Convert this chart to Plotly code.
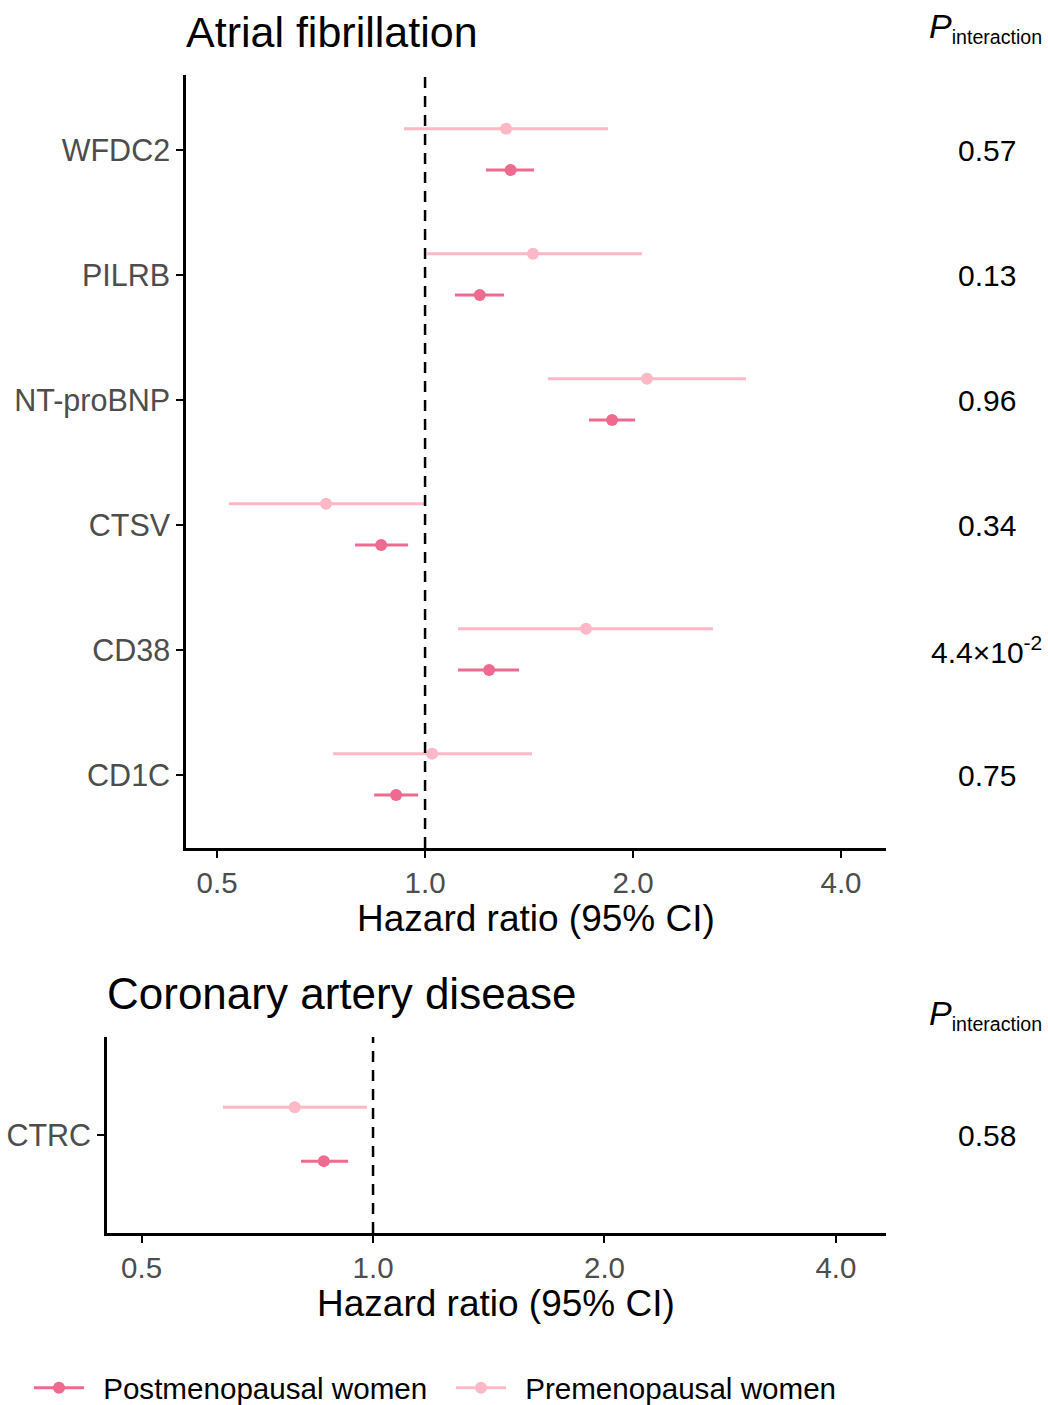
import plotly.graph_objects as go
import math

# ---------------- data ----------------
af_proteins = ["WFDC2", "PILRB", "NT-proBNP", "CTSV", "CD38", "CD1C"]
af_post_hr = [1.33, 1.20, 1.865, 0.864, 1.238, 0.908]
af_post_lo = [1.225, 1.105, 1.727, 0.792, 1.116, 0.844]
af_post_hi = [1.438, 1.301, 2.014, 0.945, 1.368, 0.977]
af_pre_hr = [1.31, 1.433, 2.095, 0.719, 1.71, 1.024]
af_pre_lo = [0.932, 1.007, 1.506, 0.520, 1.116, 0.736]
af_pre_hi = [1.84, 2.06, 2.914, 0.997, 2.61, 1.428]
af_p = ["0.57", "0.13", "0.96", "0.34", "4.4×10<sup>-2</sup>", "0.75"]

cad_proteins = ["CTRC"]
cad_post_hr = [0.863]
cad_post_lo = [0.806]
cad_post_hi = [0.928]
cad_pre_hr = [0.791]
cad_pre_lo = [0.638]
cad_pre_hi = [0.982]
cad_p = ["0.58"]

x_ticks = [0.5, 1.0, 2.0, 4.0]
x_ticktext = ["0.5", "1.0", "2.0", "4.0"]

POST = "#EE6A8E"
PRE = "#FFB8C6"
W, H = 1048, 1405
FONT = "Liberation Sans, Arial, sans-serif"
GRAY = "#4D4D4D"

def px(x):
    return x / W

def py(y):
    return 1 - y / H

fig = go.Figure()

def add_panel(names, post_hr, post_lo, post_hi, pre_hr, pre_lo, pre_hi, xa, ya, legend):
    n = len(names)
    pos = [n - i for i in range(n)]
    groups = [
        ("\u00a0\u2009Postmenopausal women", POST, post_hr, post_lo, post_hi, -0.16),
        ("\u00a0\u2009Premenopausal women", PRE, pre_hr, pre_lo, pre_hi, 0.17),
    ]
    for name, col, hr, lo, hi, off in groups:
        cx, cy = [], []
        for p, l, h in zip(pos, lo, hi):
            cx += [l, h, None]
            cy += [p + off, p + off, None]
        fig.add_trace(go.Scatter(x=cx, y=cy, mode="lines", line=dict(color=col, width=3),
                                 xaxis=xa, yaxis=ya, showlegend=False, hoverinfo="skip"))
        mx, my = [], []
        for p, v in zip(pos, hr):
            mx += [v, None]
            my += [p + off, None]
        fig.add_trace(go.Scatter(x=mx, y=my, mode="lines+markers", name=name,
                                 line=dict(color=col, width=3),
                                 marker=dict(color=col, size=12),
                                 xaxis=xa, yaxis=ya, showlegend=legend, connectgaps=False))
    return pos

pos_af = add_panel(af_proteins, af_post_hr, af_post_lo, af_post_hi,
                   af_pre_hr, af_pre_lo, af_pre_hi, "x", "y", True)
pos_cad = add_panel(cad_proteins, cad_post_hr, cad_post_lo, cad_post_hi,
                    cad_pre_hr, cad_pre_lo, cad_pre_hi, "x2", "y2", False)

xrange = [math.log10(0.4508), math.log10(4.647)]
common = dict(showgrid=False, zeroline=False, showline=True, linecolor="black",
              linewidth=2.5, ticks="outside", ticklen=7, tickwidth=2, tickcolor="black")
xfont = dict(family=FONT, size=29.5, color=GRAY)
yfont = dict(family=FONT, size=30.5, color=GRAY)

fig.update_layout(
    width=W, height=H,
    margin=dict(l=0, r=0, t=0, b=0, pad=0, autoexpand=False),
    paper_bgcolor="white", plot_bgcolor="white",
    font=dict(family=FONT),
    xaxis=dict(type="log", range=xrange, domain=[px(186), px(886)], anchor="y",
               tickvals=x_ticks, ticktext=x_ticktext, tickfont=xfont, **common),
    yaxis=dict(range=[0.416, 6.6], domain=[py(848), py(75)], anchor="x",
               tickvals=pos_af, ticktext=af_proteins, tickfont=yfont,
               ticklabelstandoff=0, **common),
    xaxis2=dict(type="log", range=xrange, domain=[px(107), px(886)], anchor="y2",
                tickvals=x_ticks, ticktext=x_ticktext, tickfont=xfont, **common),
    yaxis2=dict(range=[0.4, 1.6], domain=[py(1233), py(1037)], anchor="x2",
                tickvals=pos_cad, ticktext=cad_proteins, tickfont=yfont,
                ticklabelstandoff=0, **common),
    legend=dict(orientation="h", x=px(29), xanchor="left", y=py(1388), yanchor="middle",
                font=dict(family=FONT, size=29.6, color="black"),
                itemwidth=50, entrywidth=357, entrywidthmode="pixels", traceorder="normal",
                bgcolor="rgba(0,0,0,0)"),
    showlegend=True,
)

# dashed reference lines at HR = 1
for xr, yr in [("x", "y domain"), ("x2", "y2 domain")]:
    fig.add_shape(type="line", xref=xr, yref=yr, x0=1, x1=1, y0=0, y1=1,
                  line=dict(color="black", width=2.5, dash="11px,8px"), layer="above")

# titles
fig.add_annotation(text="Atrial fibrillation", xref="paper", yref="paper", x=px(184), y=py(32),
                   xanchor="left", yanchor="middle", showarrow=False,
                   font=dict(family=FONT, size=43, color="black"))
fig.add_annotation(text="Coronary artery disease", xref="paper", yref="paper", x=px(105), y=py(993),
                   xanchor="left", yanchor="middle", showarrow=False,
                   font=dict(family=FONT, size=44, color="black"))

# axis titles
for cx, cy in [(536, 918), (496, 1303)]:
    fig.add_annotation(text="Hazard ratio (95% CI)", xref="paper", yref="paper", x=px(cx), y=py(cy),
                       xanchor="center", yanchor="middle", showarrow=False,
                       font=dict(family=FONT, size=37, color="black"))

# P interaction headers
for hy in [27, 1014]:
    fig.add_annotation(text="<span style='font-size:34px'><i>P</i></span><sub>interaction</sub>",
                       xref="paper", yref="paper", x=px(1044), y=py(hy),
                       xanchor="right", yanchor="middle", showarrow=False,
                       font=dict(family=FONT, size=28, color="black"))

# P values
def add_p(pos, labels, yref):
    for p, t in zip(pos, labels):
        if "<sup>" in t:
            xa, xv = "right", 1044
        else:
            xa, xv = "center", 987
        fig.add_annotation(text=t, xref="paper", yref=yref, x=px(xv), y=p,
                           xanchor=xa, yanchor="middle", showarrow=False,
                           font=dict(family=FONT, size=30, color="black"))

add_p(pos_af, af_p, "y")
add_p(pos_cad, cad_p, "y2")

page_css = ("document.documentElement.style.overflow='hidden';"
            "document.body.style.margin='0';"
            "document.body.style.overflow='hidden';")
fig.write_html("out.html", post_script=page_css, config={"displayModeBar": False})
